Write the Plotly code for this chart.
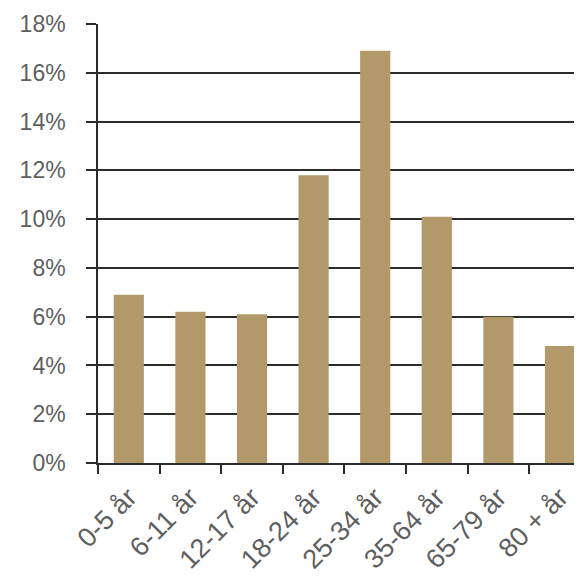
import plotly.graph_objects as go

categories = ["0-5 år", "6-11 år", "12-17 år", "18-24 år", "25-34 år", "35-64 år", "65-79 år", "80 + år"]
values = [6.9, 6.2, 6.1, 11.8, 16.9, 10.1, 6.0, 4.8]
y_ticks = [0, 2, 4, 6, 8, 10, 12, 14, 16, 18]
y_ticktext = [f"{v}%" for v in y_ticks]

bar_color = "rgb(178,153,106)"
text_color = "#5f5f5f"
line_color = "#2b2b2b"

fig = go.Figure(go.Bar(
    x=categories, y=values,
    marker=dict(color=bar_color, line=dict(width=0)),
    width=0.49,
))

fig.update_layout(
    width=574, height=570,
    margin=dict(l=90, r=0, t=16, b=115),
    paper_bgcolor="white", plot_bgcolor="white",
    showlegend=False,
    font=dict(family="Liberation Sans, Arial, sans-serif", size=23, color=text_color),
    bargap=0.5,
)
fig.update_xaxes(
    range=[-0.5, 7.357],
    automargin=False,
    tickson="boundaries",
    ticks="outside", ticklen=9, tickwidth=1.5, tickcolor=line_color,
    showline=True, linecolor=line_color, linewidth=1.5,
    showgrid=False,
    tickangle=-45,
    ticklabelstandoff=6,
    tickfont=dict(size=27, color=text_color),
)
fig.update_yaxes(
    range=[0, 18],
    automargin=False,
    tickvals=y_ticks, ticktext=y_ticktext,
    ticks="outside", ticklen=10, tickwidth=1.5, tickcolor=line_color,
    showline=True, linecolor=line_color, linewidth=1.5,
    showgrid=True, gridcolor=line_color, gridwidth=1.5,
    zeroline=False,
    ticklabelstandoff=16,
    tickfont=dict(size=23, color=text_color),
)

fig.write_html("out.html")
